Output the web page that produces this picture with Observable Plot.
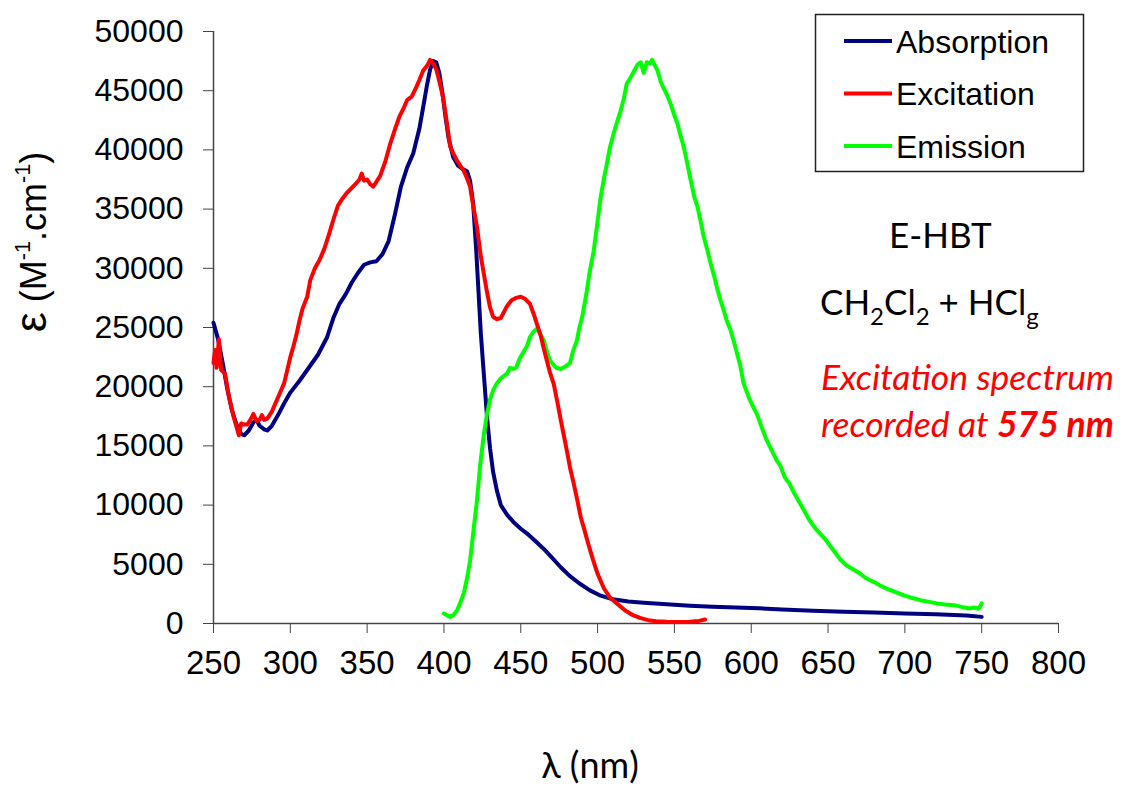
<!DOCTYPE html>
<html>
<head>
<meta charset="utf-8">
<script src="https://cdn.jsdelivr.net/npm/d3@7"></script>
<script src="https://cdn.jsdelivr.net/npm/@observablehq/plot@0.6"></script>
<style>
  html, body { margin: 0; padding: 0; background: #fff; }
  #chart { position: relative; width: 1126px; height: 785px; }
  #ytitle {
    position: absolute; left: 31px; top: 242px;
    transform: translate(-50%, -50%) rotate(-90deg);
    font-family: "Liberation Sans", Arial, sans-serif; font-size: 36px; white-space: nowrap; color: #000;
  }
  #ytitle sup { font-size: 0.6em; vertical-align: 0.75em; line-height: 0; }
  #ytitle .eps { font-size: 1.25em; }
  #xtitle {
    position: absolute; left: 590px; top: 764px;
    transform: translate(-50%, -50%);
    font-family: Lato, "Open Sans", sans-serif; font-size: 36px; white-space: nowrap; color: #000;
  }
</style>
</head>
<body>
<div id="chart">
  <div id="ytitle"><span class="eps">ε</span> (M<sup>-1</sup>.cm<sup>-1</sup>)</div>
  <div id="xtitle">λ (nm)</div>
</div>
<script>
// Absorption spectrum (wavelength in nm, molar absorptivity in M-1.cm-1)
const absWl = [250,253,256,259,262,265,268,270,273,276,278,280,283,285,288,292,296,300,306,312,318,324,328,332,336,340,344,348,352,356,360,364,368,372,376,380,384,387,389,391,393,395,397,399,401,403,406,409,412,415,417,419,421,422.5,424,426,428,430,432,434.5,437,441,445,450,455,460,465,470,476,482,488,495,502,510,520,530,545,560,575,590,605,620,640,660,680,700,720,740,750];
const absEps = [25400,24000,22000,19800,18000,16800,16000,15900,16300,17000,17200,16700,16400,16300,16700,17600,18600,19500,20500,21600,22700,24200,25800,27000,27800,28800,29600,30300,30500,30600,31200,32300,34500,36900,38500,39700,41800,44000,45500,46800,47500,47400,46500,44800,42800,41000,39400,38700,38400,38200,37400,35500,31500,28000,24500,21000,17500,14800,12800,11200,10000,9200,8600,8000,7500,6900,6300,5600,4750,4000,3400,2800,2350,2050,1850,1750,1620,1500,1420,1350,1280,1180,1070,990,930,850,780,680,560];

// Excitation spectrum, recorded at 575 nm
const excWl = [250,251,252,253.5,255,257.5,260,263,265,266.5,268,270,272,274,276,278,280,281.5,283,285,288,291,294,296,298,300,302,304,306,308,311,313,316,319,322,325,328,331,334,337,340,343,345,346.5,348,350,352,354,356,358.5,362,365,368,371,374,376,379,382,384,386.5,389,391,393,395,397,399.5,402,404,406.5,408.5,411,413,415,417,419,421.5,424,426,428,430,432,434.5,437,439,441,444,447,450,453,456,458.5,461,463,465,467,469,471.5,474,476,478,480,482,484.5,487,489,491,494,497,500,504,508,512.5,518,523,528,533,538,545,552,560,566,570];
const excEps = [22000,23100,21600,24000,21400,21100,19200,17500,16600,15900,16900,16800,16800,17200,17700,17100,17200,17600,17200,17300,17900,18800,19700,20300,21400,22500,23400,24400,25600,26600,27600,29000,30000,30700,31600,32800,34100,35300,35900,36400,36800,37200,37500,38000,37400,37500,37100,36900,37300,37800,39100,40500,41700,42800,43600,44200,44500,45300,45900,46700,47100,47600,47300,46800,45800,44400,42200,40300,39600,39100,38600,38200,37600,36900,35300,33500,31000,29500,28000,26700,25900,25700,25800,26300,26800,27300,27500,27600,27400,27000,26100,25100,24300,23200,22200,21200,20200,18600,17200,15900,14600,13200,11800,10300,9000,8100,6700,5400,4200,3000,2200,1700,1100,700,450,280,190,140,130,150,220,340];

// Emission spectrum
const emWl = [400,402,404,406,408.5,410.5,413,415,417,419,421.5,423.5,426,428,430,432,434.5,437,439,441,443,445,447,449,452,454,456,458,460.5,462.5,465,467,469,471,473,476,479,482,484,486.5,488,490,493,495,497.5,500,502,504,506,508,510.5,513,515,517,519,521,523.5,526,528,530,532,534,535.5,537,539,541,543,545,547.5,550,552,554,556,558,560.5,563,565,567,569,571.5,574,576,578,580,582,584,586.5,588.5,591,593,595,597,599,602,604,607,610,613,616.5,619,622,625,628,632,635,638,642,647,650,654,658,662,666,671,675,680,684,688,694,699,705,710,715,721,726,732,737,742,745,748,749,750];
const emEps = [840,700,560,700,1100,1700,2600,3800,5300,7600,10400,13300,16000,17700,18900,19700,20300,20700,20900,21100,21600,21500,21600,22300,23000,23400,24200,24600,24900,24500,23900,23000,22200,21900,21600,21500,21700,22000,23000,23900,24900,25900,28100,29800,31500,34000,36000,37500,38800,40200,41400,42500,43300,44300,45600,46000,46600,47200,47400,46500,47400,47300,47600,47200,46700,45800,45200,44700,43900,42900,42200,41200,40300,39100,37500,36000,35200,34000,32700,31500,30200,29300,28200,27300,26500,25600,24800,23900,22700,21700,20300,19600,18900,18100,17600,16500,15500,14700,13800,13300,12300,11800,11000,10100,9400,8700,8000,7300,6800,6100,5400,4900,4600,4200,3800,3500,3200,2950,2650,2400,2150,1970,1850,1700,1600,1550,1400,1270,1350,1250,1450,1700];

const seriesNames = ["Absorption", "Excitation", "Emission"];
const seriesColors = ["#000080", "#ff0000", "#00ff00"];
const xTicks = [250,300,350,400,450,500,550,600,650,700,750,800];
const yTicks = [0,5000,10000,15000,20000,25000,30000,35000,40000,45000,50000];

const rows = (wl, eps) => wl.map((w, i) => ({wl: w, eps: eps[i]}));
const absRows = rows(absWl, absEps);
const excRows = rows(excWl, excEps);
const emRows = rows(emWl, emEps);

const lineOpts = {x: "wl", y: "eps", strokeWidth: 4, strokeLinejoin: "round", strokeLinecap: "round"};

const chart = Plot.plot({
  width: 1126,
  height: 785,
  marginTop: 31,
  marginLeft: 213,
  marginRight: 68,
  marginBottom: 162,
  style: {fontFamily: "'Liberation Sans', Arial, sans-serif", background: "#fff"},
  x: {domain: [250, 800]},
  y: {domain: [0, 50000]},
  marks: [
    Plot.axisX({ticks: xTicks, tickSize: 10, tickPadding: 17, fontSize: 33, label: null, stroke: "#444", color: "#000"}),
    Plot.axisY({ticks: yTicks, tickSize: 10, tickPadding: 20, fontSize: 32, label: null, tickFormat: d => String(d), stroke: "#444", color: "#000"}),
    Plot.ruleY([0], {stroke: "#444", strokeWidth: 1.5}),
    Plot.ruleX([250], {stroke: "#444", strokeWidth: 1.5}),
    Plot.line(absRows, {...lineOpts, stroke: seriesColors[0]}),
    Plot.line(emRows, {...lineOpts, stroke: seriesColors[2]}),
    Plot.line(excRows, {...lineOpts, stroke: seriesColors[1]})
  ]
});

const svg = d3.select(chart);

// Legend box with the three series
const legend = svg.append("g").attr("text-anchor", "start");
legend.append("rect")
  .attr("x", 815.5).attr("y", 14.5).attr("width", 268).attr("height", 157)
  .attr("fill", "#fff").attr("stroke", "#222").attr("stroke-width", 1.5);
seriesNames.forEach((name, i) => {
  const cy = 41 + i * 52.5;
  legend.append("line")
    .attr("x1", 844).attr("x2", 892).attr("y1", cy).attr("y2", cy)
    .attr("stroke", seriesColors[i]).attr("stroke-width", 4);
  legend.append("text")
    .attr("x", 896).attr("y", cy + 11.5)
    .attr("font-size", 32).attr("fill", "#000")
    .text(name);
});

// Compound and conditions
const note = svg.append("g").attr("text-anchor", "start").attr("font-family", "Lato, 'Open Sans', sans-serif");
note.append("text").attr("x", 889).attr("y", 248).attr("font-size", 35).text("E-HBT");
const solv = note.append("text").attr("x", 820).attr("y", 315).attr("font-size", 35);
solv.append("tspan").text("CH");
solv.append("tspan").attr("font-size", 24).attr("dy", 10).text("2");
solv.append("tspan").attr("dy", -10).text("Cl");
solv.append("tspan").attr("font-size", 24).attr("dy", 10).text("2");
solv.append("tspan").attr("dy", -10).text(" + HCl");
solv.append("tspan").attr("font-size", 24).attr("dy", 10).text("g");

const exc = svg.append("g").attr("text-anchor", "start").attr("font-family", "Lato, 'Open Sans', sans-serif")
  .attr("fill", "#ff0000").attr("font-style", "italic").attr("font-size", 35.5);
exc.append("text").attr("x", 821).attr("y", 390).text("Excitation spectrum");
const rec = exc.append("text").attr("x", 821).attr("y", 437);
rec.append("tspan").text("recorded at ");
rec.append("tspan").attr("font-weight", "bold").text("575 nm");

document.getElementById("chart").prepend(chart);
chart.style.position = "absolute";
chart.style.left = "0";
chart.style.top = "0";
</script>
</body>
</html>
